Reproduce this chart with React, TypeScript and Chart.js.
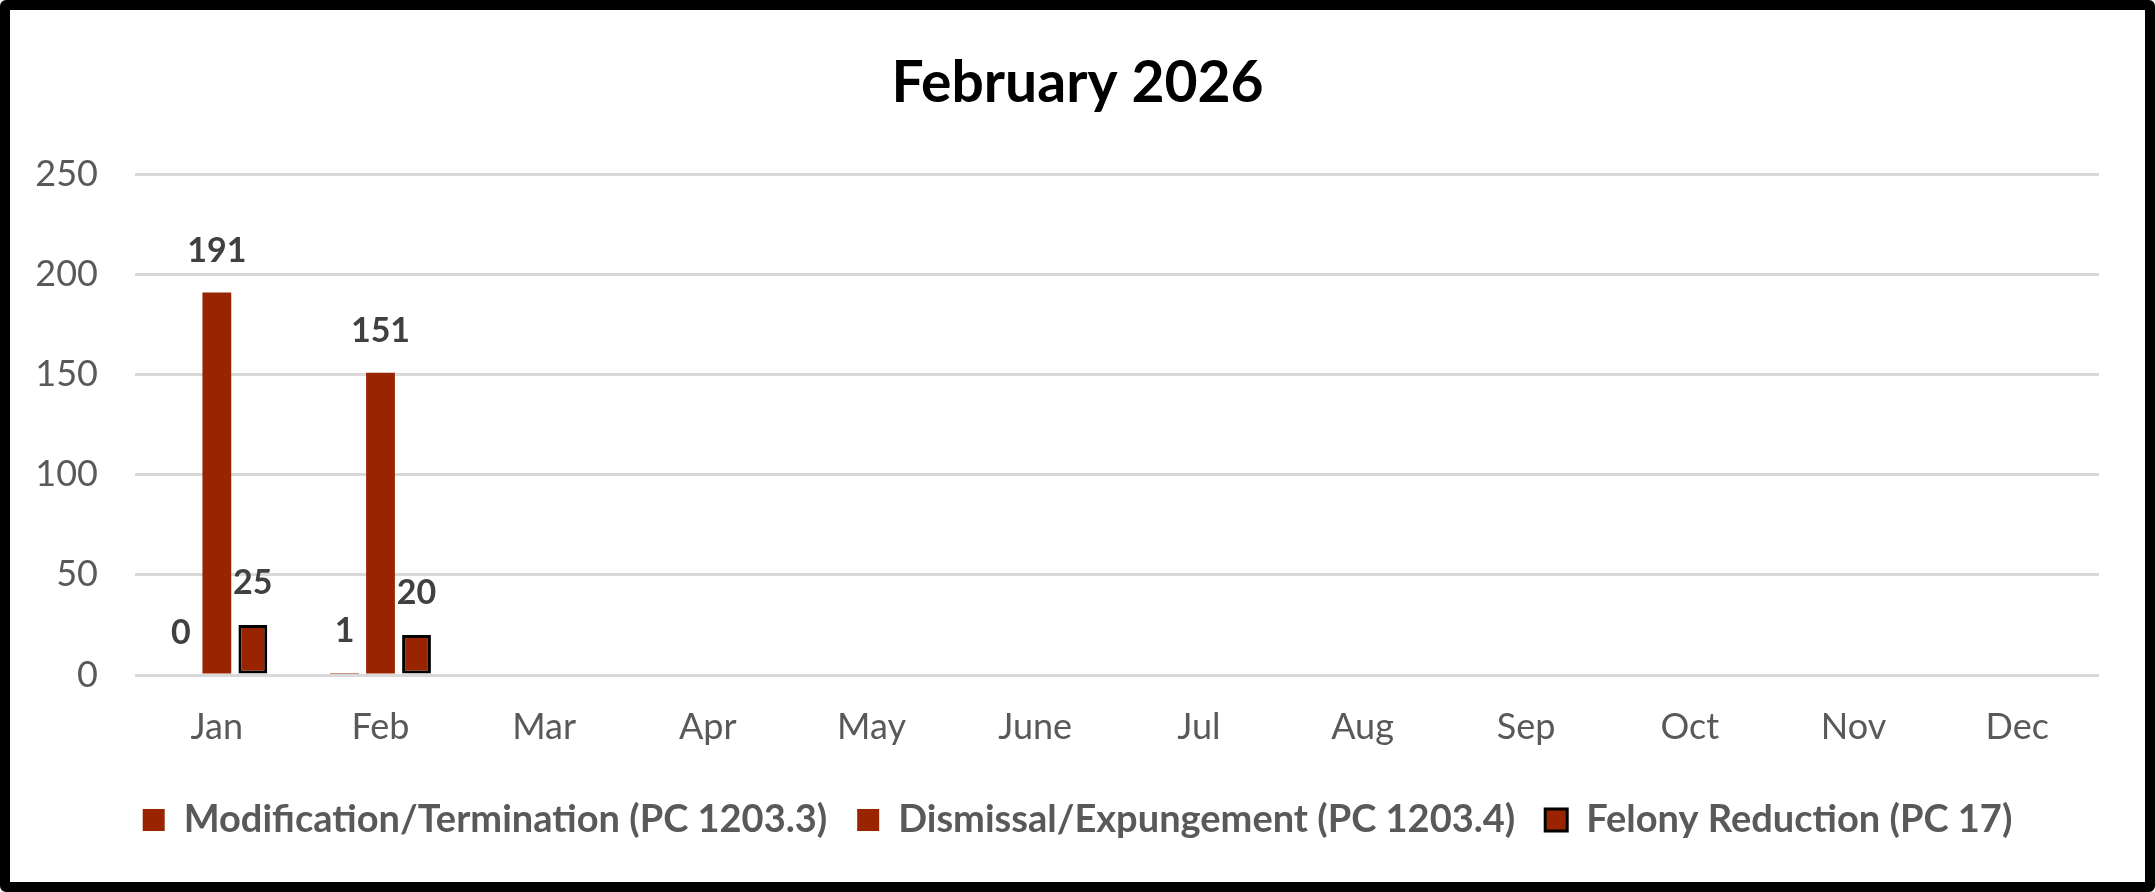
import React, { useEffect, useRef } from "react";
import { Chart, registerables } from "chart.js";

Chart.register(...registerables);

const MONTHS = ["Jan", "Feb", "Mar", "Apr", "May", "June", "Jul", "Aug", "Sep", "Oct", "Nov", "Dec"];
const MODIFICATION = [0, 1, null, null, null, null, null, null, null, null, null, null];
const DISMISSAL = [191, 151, null, null, null, null, null, null, null, null, null, null];
const FELONY = [25, 20, null, null, null, null, null, null, null, null, null, null];
const SERIES_NAMES = [
  "Modification/Termination (PC 1203.3)",
  "Dismissal/Expungement (PC 1203.4)",
  "Felony Reduction (PC 17)",
];
const TITLE = "February 2026";
const Y_MAX = 250;
const Y_STEP = 50;

const FONT = "Lato";
const BAR_COLOR = "#992401";
const GRID_COLOR = "#D9D9D9";
const TICK_COLOR = "#595959";
const LABEL_COLOR = "#404040";

// draws the value above each bar, like Excel's "outside end" labels
const valueLabels = {
  id: "valueLabels",
  afterDatasetsDraw(chart: any) {
    const { ctx } = chart;
    ctx.save();
    ctx.font = `bold 34px ${FONT}`;
    ctx.fillStyle = LABEL_COLOR;
    ctx.textAlign = "center";
    ctx.textBaseline = "alphabetic";
    chart.data.datasets.forEach((ds: any, i: number) => {
      const meta = chart.getDatasetMeta(i);
      meta.data.forEach((bar: any, j: number) => {
        const v = ds.data[j];
        if (v === null || v === undefined) return;
        ctx.fillText(String(v), bar.x, bar.y - 31);
      });
    });
    ctx.restore();
  },
};

export default function App() {
  const canvasRef = useRef<HTMLCanvasElement | null>(null);

  useEffect(() => {
    const canvas = canvasRef.current;
    if (!canvas) return;

    const chart = new Chart(canvas, {
      type: "bar",
      data: {
        labels: MONTHS,
        datasets: [
          {
            label: SERIES_NAMES[0],
            data: MODIFICATION,
            backgroundColor: BAR_COLOR,
            borderWidth: 0,
          },
          {
            label: SERIES_NAMES[1],
            data: DISMISSAL,
            backgroundColor: BAR_COLOR,
            borderWidth: 0,
          },
          {
            label: SERIES_NAMES[2],
            data: FELONY,
            backgroundColor: BAR_COLOR,
            borderColor: "#000",
            borderWidth: 3,
            borderSkipped: false,
          },
        ],
      },
      options: {
        animation: false,
        responsive: true,
        maintainAspectRatio: false,
        categoryPercentage: 0.66,
        barPercentage: 0.8,
        layout: { padding: { top: 0, right: 0, bottom: 33, left: 0 } },
        plugins: {
          title: {
            display: true,
            text: TITLE,
            color: "#000",
            font: { family: FONT, size: 57, weight: "bold" },
            padding: { top: 39, bottom: 57 },
          },
          legend: {
            position: "bottom",
            labels: {
              color: TICK_COLOR,
              font: { family: FONT, size: 38, weight: "bold" },
              boxWidth: 22,
              boxHeight: 22,
              padding: 30,
            },
          },
          tooltip: { enabled: false },
        },
        scales: {
          x: {
            border: { display: false },
            grid: { display: false, drawTicks: false },
            ticks: {
              color: TICK_COLOR,
              font: { family: FONT, size: 36 },
              padding: 31,
              maxRotation: 0,
              autoSkip: false,
            },
            afterFit: (axis: any) => {
              axis.height = 96;
            },
          },
          y: {
            min: 0,
            max: Y_MAX,
            border: { display: false },
            grid: { color: GRID_COLOR, lineWidth: 3, drawTicks: false },
            ticks: {
              stepSize: Y_STEP,
              color: TICK_COLOR,
              font: { family: FONT, size: 36 },
              padding: 37,
            },
            afterFit: (axis: any) => {
              axis.width = 125;
            },
          },
          // empty right-hand axis that only reserves the right margin
          yRight: {
            position: "right",
            border: { display: false },
            grid: { display: false, drawTicks: false },
            ticks: { display: false },
            afterFit: (axis: any) => {
              axis.width = 46;
            },
          },
        },
      },
      plugins: [valueLabels],
    });

    return () => {
      chart.destroy();
    };
  }, []);

  return (
    <div
      style={{
        position: "absolute",
        left: 0,
        top: 0,
        width: 2155,
        height: 892,
        boxSizing: "border-box",
        border: "10px solid #000",
        borderRadius: 6,
        background: "#fff",
      }}
    >
      <div style={{ position: "relative", width: 2135, height: 872 }}>
        <canvas ref={canvasRef} />
      </div>
    </div>
  );
}
